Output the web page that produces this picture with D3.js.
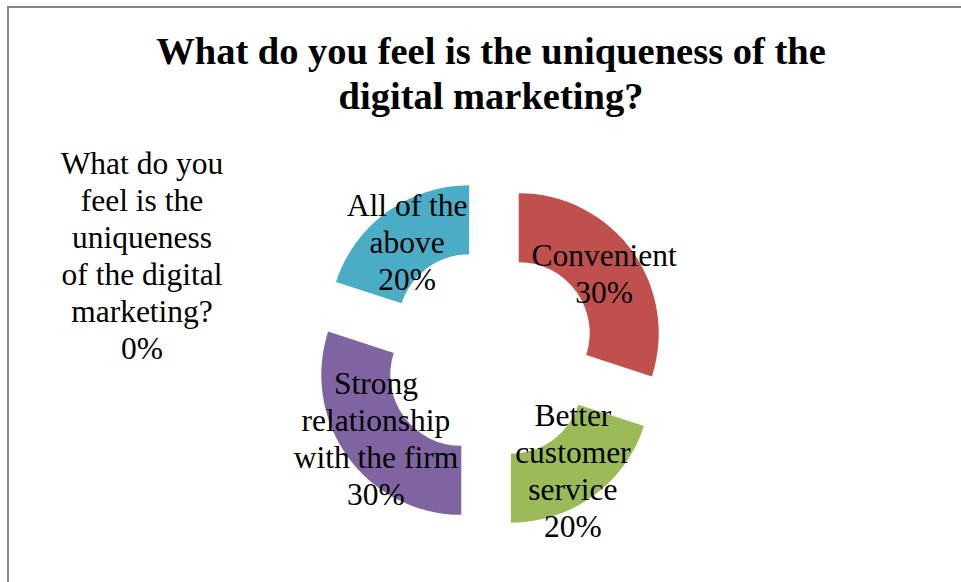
<!DOCTYPE html>
<html>
<head>
<meta charset="utf-8">
<script src="https://cdn.jsdelivr.net/npm/d3@7/dist/d3.min.js"></script>
<style>
  html, body { margin: 0; padding: 0; background: #fff; }
  svg { display: block; }
</style>
</head>
<body>
<svg id="chart" width="961" height="582"></svg>
<script>
// Survey answers, in clockwise order starting at 12 o'clock
const categories = [
  "Convenient",
  "Better customer service",
  "Strong relationship with the firm",
  "All of the above",
  "What do you feel is the uniqueness of the digital marketing?"
];
const values = [30, 20, 30, 20, 0];
const colors = ["#C0504D", "#9BBB59", "#8064A2", "#4BACC6", "#F79646"];
// Label lines as they wrap inside each segment
const labelLines = [
  ["Convenient"],
  ["Better", "customer", "service"],
  ["Strong", "relationship", "with the firm"],
  ["All of the", "above"],
  ["What do you", "feel is the", "uniqueness", "of the digital", "marketing?"]
];

const svg = d3.select("#chart");
const W = 961, H = 582;

// chart area frame
svg.append("rect")
  .attr("x", 8).attr("y", 7)
  .attr("width", W + 20).attr("height", H + 20)
  .attr("fill", "#fff")
  .attr("stroke", "#878787")
  .attr("stroke-width", 2);

// title
const title = svg.append("text")
  .attr("text-anchor", "middle")
  .attr("font-family", "'Liberation Serif', 'Times New Roman', serif")
  .attr("font-weight", "bold")
  .attr("font-size", 38.5)
  .attr("fill", "#000");
["What do you feel is the uniqueness of the", "digital marketing?"].forEach((t, i) => {
  title.append("tspan").attr("x", 491).attr("y", 64 + i * 45).text(t);
});

const cx = 490, cy = 354;
const rOuter = 140, rInner = 71, explode = 35.5;
const total = d3.sum(values);

const pie = d3.pie().sort(null).startAngle(0).endAngle(2 * Math.PI).value(d => d);
const arcs = pie(values);
const arc = d3.arc().innerRadius(rInner).outerRadius(rOuter);
const pct = d3.format(".0%");

const g = svg.append("g").attr("transform", `translate(${cx},${cy})`);

// each segment is pulled out along its bisector
function offset(a) {
  const mid = (a.startAngle + a.endAngle) / 2;
  return [Math.sin(mid) * explode, -Math.cos(mid) * explode];
}

g.selectAll("path.seg")
  .data(arcs.filter(a => a.value > 0))
  .join("path")
  .attr("class", "seg")
  .attr("d", arc)
  .attr("fill", a => colors[a.index])
  .attr("transform", a => { const o = offset(a); return `translate(${o[0]},${o[1]})`; });

// data labels: category name + percentage
const lineH = 37;
const fontLabel = "'Liberation Serif', 'Times New Roman', serif";
arcs.forEach(a => {
  const lines = labelLines[a.index].concat([pct(a.value / total)]);
  let x, yMid;
  if (a.value > 0) {
    const c = arc.centroid(a);
    const o = offset(a);
    x = c[0] + o[0];
    yMid = c[1] + o[1] + 2;
  } else {
    // empty segment: its label sits out to the left of the ring
    x = -348;
    yMid = -99;
  }
  const n = lines.length;
  const t = g.append("text")
    .attr("text-anchor", "middle")
    .attr("font-family", fontLabel)
    .attr("font-size", 31.5)
    .attr("fill", "#000");
  lines.forEach((s, i) => {
    t.append("tspan")
      .attr("x", x)
      .attr("y", yMid + (i - (n - 1) / 2) * lineH + 11)
      .text(s);
  });
});
</script>
</body>
</html>
